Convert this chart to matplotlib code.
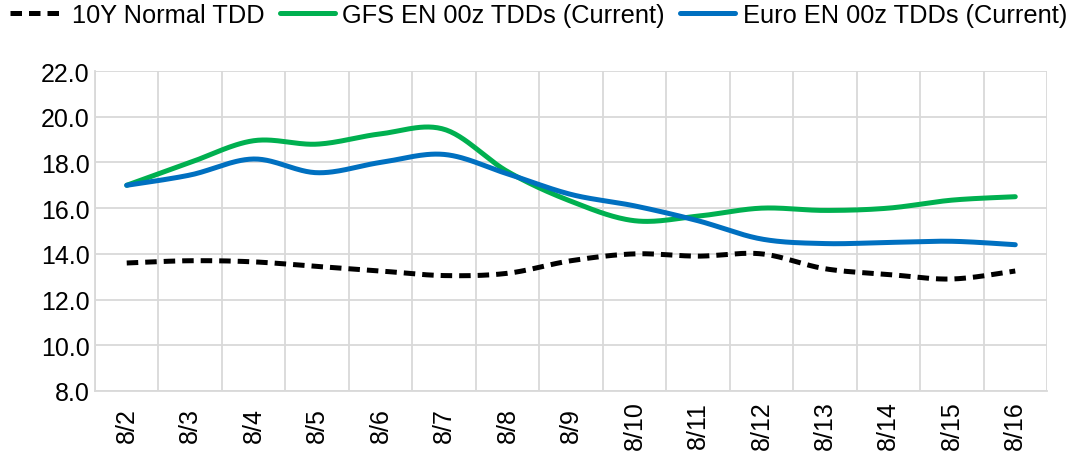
import numpy as np
import matplotlib
matplotlib.use("Agg")
import matplotlib.pyplot as plt
from matplotlib.lines import Line2D

plt.rcParams['font.family'] = ['Liberation Sans', 'DejaVu Sans']

dates = ["8/2", "8/3", "8/4", "8/5", "8/6", "8/7", "8/8", "8/9",
         "8/10", "8/11", "8/12", "8/13", "8/14", "8/15", "8/16"]
normal_tdd = [13.6, 13.7, 13.65, 13.45, 13.25, 13.05, 13.15, 13.7,
              14.0, 13.9, 14.0, 13.35, 13.1, 12.9, 13.25]
gfs_tdd = [17.0, 18.0, 18.95, 18.8, 19.25, 19.45, 17.6, 16.3,
           15.45, 15.65, 16.0, 15.9, 16.0, 16.35, 16.5]
euro_tdd = [17.0, 17.45, 18.15, 17.55, 18.0, 18.35, 17.5, 16.6,
            16.1, 15.45, 14.65, 14.45, 14.5, 14.55, 14.4]
y_ticks = [8, 10, 12, 14, 16, 18, 20, 22]


def smooth(y, n=30):
    # excel-style smoothed line: bezier through points, catmull-rom handles
    y = np.asarray(y, dtype=float)
    x = np.arange(len(y), dtype=float)
    px = np.concatenate([[x[0]], x, [x[-1]]])
    py = np.concatenate([[y[0]], y, [y[-1]]])
    xs, ys = [], []
    t = np.linspace(0, 1, n)
    for i in range(len(y) - 1):
        p0 = np.array([px[i + 1], py[i + 1]])
        p3 = np.array([px[i + 2], py[i + 2]])
        p1 = p0 + (np.array([px[i + 2], py[i + 2]]) - np.array([px[i], py[i]])) / 6
        p2 = p3 - (np.array([px[i + 3], py[i + 3]]) - np.array([px[i + 1], py[i + 1]])) / 6
        b = (np.outer((1 - t) ** 3, p0) + np.outer(3 * (1 - t) ** 2 * t, p1)
             + np.outer(3 * (1 - t) * t ** 2, p2) + np.outer(t ** 3, p3))
        xs.append(b[:, 0])
        ys.append(b[:, 1])
    return np.concatenate(xs), np.concatenate(ys)


fig = plt.figure(figsize=(10.73, 4.6), dpi=100)
ax = fig.add_axes([95 / 1073, 1 - 392 / 460, (1047 - 95) / 1073, (392 - 72) / 460])

grid_c = "#d9d9d9"
black_c = "#000000"
green_c = "#00b050"
blue_c = "#0070c0"
fs = 18

sx, sy = smooth(normal_tdd)
ax.plot(sx, sy, color=black_c, lw=3.6, dashes=(2.3, 1.4), zorder=3)
sx, sy = smooth(gfs_tdd)
ax.plot(sx, sy, color=green_c, lw=3.6, solid_capstyle="round", zorder=3)
sx, sy = smooth(euro_tdd)
ax.plot(sx, sy, color=blue_c, lw=3.6, solid_capstyle="round", zorder=4)

ax.set_xlim(-0.5, len(dates) - 0.5)
ax.set_ylim(8, 22)
ax.set_yticks(y_ticks)
ax.set_yticklabels([f"{v:.1f}" for v in y_ticks], fontsize=fs)
ax.set_xticks(np.arange(len(dates)))
ax.set_xticklabels(dates, rotation=90, fontsize=fs, va="center")
ax.set_xticks(np.arange(len(dates) + 1) - 0.5, minor=True)
ax.tick_params(axis="both", which="both", length=0, colors="black")
ax.tick_params(axis="y", pad=4)
ax.tick_params(axis="x", pad=24)
ax.grid(True, axis="y", which="major", color=grid_c, lw=1.3)
ax.grid(True, axis="x", which="minor", color=grid_c, lw=1.3)
ax.grid(False, axis="x", which="major")
for s in ["top", "right"]:
    ax.spines[s].set_visible(False)
for s in ["left", "bottom"]:
    ax.spines[s].set_color(grid_c)
    ax.spines[s].set_linewidth(1.3)

handles = [
    Line2D([], [], color=black_c, lw=3.6, dashes=(2.3, 1.4)),
    Line2D([], [], color=green_c, lw=3.6, solid_capstyle="round"),
    Line2D([], [], color=blue_c, lw=3.6, solid_capstyle="round"),
]
labels = ["10Y Normal TDD", "GFS EN 00z TDDs (Current)", "Euro EN 00z TDDs (Current)"]
fig.legend(handles, labels, loc="upper left", bbox_to_anchor=(10 / 1073, 1 - 4 / 460), ncol=3,
           frameon=False, fontsize=18.3, handlelength=2.15, handletextpad=0.3,
           columnspacing=0.6, borderpad=0, borderaxespad=0)

fig.savefig("out.png", dpi=100)
